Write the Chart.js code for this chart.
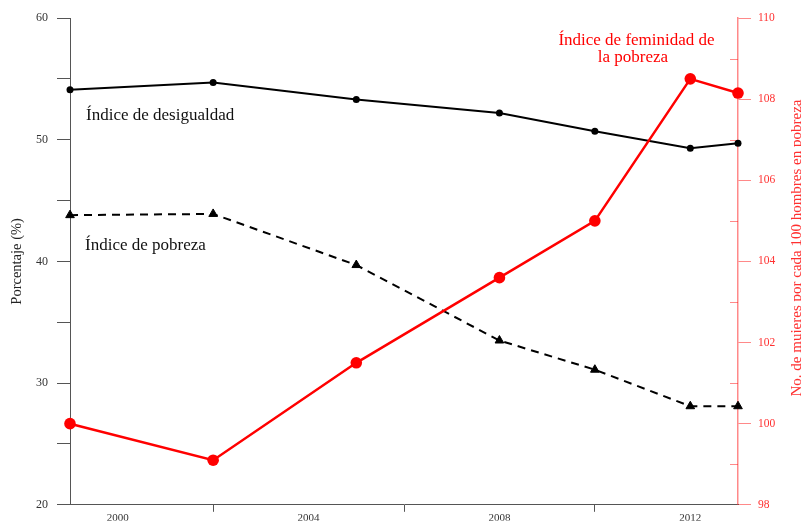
<!DOCTYPE html>
<html>
<head>
<meta charset="utf-8">
<script src="https://cdn.jsdelivr.net/npm/chart.js@4.4.0/dist/chart.umd.min.js"></script>
<style>
  html, body { margin: 0; padding: 0; background: #fff; overflow: hidden; }
  #wrap { width: 801px; height: 521px; position: relative; }
</style>
</head>
<body>
<div id="wrap"><canvas id="chart"></canvas></div>
<script>
// Data
const years = [1999, 2002, 2005, 2008, 2010, 2012, 2013];
const desigualdad = [54.1, 54.7, 53.3, 52.2, 50.7, 49.3, 49.7];
const pobreza = [43.8, 43.9, 39.7, 33.5, 31.1, 28.1, 28.1];
const feminidad = [100.0, 99.1, 101.5, 103.6, 105.0, 108.5, 108.15];
const xTickLabels = [2000, 2004, 2008, 2012];
const leftTickLabels = [20, 30, 40, 50, 60];
const rightTickLabels = [98, 100, 102, 104, 106, 108, 110];

const SERIF = '"Liberation Serif", "Times New Roman", serif';
const AXIS_GREY = '#555555';
const RIGHT_AXIS = 'rgba(255, 40, 40, 0.55)';
const RED = '#ff0000';

Chart.defaults.font.family = SERIF;

function toPoints(values) {
    return years.map((yr, i) => ({ x: yr, y: values[i] }));
}

// text labels + inward minor ticks on the right axis
const extrasPlugin = {
    id: 'extras',
    beforeDatasetsDraw(chart) {
        const ctx = chart.ctx;
        const y1 = chart.scales.y1;
        ctx.save();
        ctx.strokeStyle = RIGHT_AXIS;
        ctx.lineWidth = 1;
        y1.ticks.forEach(t => {
            if (!rightTickLabels.includes(t.value)) {
                const py = Math.round(y1.getPixelForValue(t.value)) + 0.5;
                ctx.beginPath();
                ctx.moveTo(y1.left - 8, py);
                ctx.lineTo(y1.left, py);
                ctx.stroke();
            }
        });
        ctx.restore();
    },
    afterDraw(chart) {
        const ctx = chart.ctx;
        ctx.save();
        ctx.font = '17px ' + SERIF;
        ctx.textBaseline = 'alphabetic';

        ctx.fillStyle = '#111';
        ctx.textAlign = 'left';
        ctx.fillText('Índice de desigualdad', 86, 120);
        ctx.fillText('Índice de pobreza', 85, 250);

        ctx.fillStyle = RED;
        ctx.textAlign = 'center';
        ctx.fillText('Índice de feminidad de', 636.5, 45);
        ctx.fillText('la pobreza', 633, 62);

        // right axis title, reads bottom to top
        ctx.font = '15px ' + SERIF;
        ctx.fillStyle = '#ff3030';
        ctx.textBaseline = 'middle';
        ctx.translate(797, 248);
        ctx.rotate(-Math.PI / 2);
        ctx.fillText('No. de mujeres por cada 100 hombres en pobreza', 0, 0);
        ctx.restore();
    }
};

const ctx = document.getElementById('chart').getContext('2d');
new Chart(ctx, {
    type: 'line',
    data: {
        datasets: [{
            label: 'Índice de feminidad de la pobreza',
            data: toPoints(feminidad),
            yAxisID: 'y1',
            order: 0,
            borderColor: RED,
            backgroundColor: RED,
            borderWidth: 2.5,
            pointRadius: 5.8,
            pointBorderWidth: 0,
            pointBackgroundColor: RED,
            tension: 0,
            clip: false
        }, {
            label: 'Índice de desigualdad',
            data: toPoints(desigualdad),
            yAxisID: 'y',
            order: 1,
            borderColor: '#000',
            backgroundColor: '#000',
            borderWidth: 2,
            pointRadius: 3.5,
            pointBorderWidth: 0,
            pointBackgroundColor: '#000',
            tension: 0,
            clip: false
        }, {
            label: 'Índice de pobreza',
            data: toPoints(pobreza),
            yAxisID: 'y',
            order: 2,
            borderColor: '#000',
            backgroundColor: '#000',
            borderWidth: 2,
            borderDash: [8, 6],
            pointStyle: 'triangle',
            pointRadius: 5,
            pointBorderWidth: 1,
            pointBorderColor: '#000',
            pointBackgroundColor: '#000',
            tension: 0,
            clip: false
        }]
    },
    options: {
        responsive: true,
        maintainAspectRatio: false,
        animation: false,
        layout: { padding: { top: 18, left: 0, right: 0, bottom: 0 } },
        plugins: {
            legend: { display: false },
            tooltip: { enabled: false }
        },
        scales: {
            x: {
                type: 'linear',
                min: 1999,
                max: 2013,
                border: { color: AXIS_GREY, width: 1 },
                grid: {
                    drawOnChartArea: false,
                    drawTicks: true,
                    tickLength: 7,
                    tickColor: c => (c.tick && c.tick.value % 4 === 2) ? AXIS_GREY : 'rgba(0,0,0,0)'
                },
                ticks: {
                    stepSize: 1,
                    autoSkip: false,
                    maxRotation: 0,
                    padding: 0,
                    color: '#333',
                    font: { size: 11 },
                    callback: v => xTickLabels.includes(v) ? String(v) : ''
                },
                afterFit: s => { s.height = 16; }
            },
            y: {
                position: 'left',
                min: 20,
                max: 60,
                border: { color: AXIS_GREY, width: 1 },
                grid: { drawOnChartArea: false, tickLength: 13, tickColor: AXIS_GREY },
                ticks: {
                    stepSize: 5,
                    padding: 9,
                    color: '#333',
                    font: { size: 12 },
                    callback: v => leftTickLabels.includes(v) ? String(v) : ''
                },
                title: {
                    display: true,
                    text: 'Porcentaje (%)',
                    color: '#222',
                    font: { size: 14.5 },
                    padding: { top: 8, bottom: 0 }
                },
                afterFit: s => { s.width = 70; }
            },
            y1: {
                position: 'right',
                min: 98,
                max: 110,
                border: { color: RIGHT_AXIS, width: 1.5 },
                grid: {
                    drawOnChartArea: false,
                    tickLength: 13,
                    tickColor: c => (c.tick && rightTickLabels.includes(c.tick.value)) ? RIGHT_AXIS : 'rgba(0,0,0,0)'
                },
                ticks: {
                    stepSize: 1,
                    padding: 7,
                    color: '#ff3030',
                    font: { size: 11.5 },
                    callback: v => rightTickLabels.includes(v) ? String(v) : ''
                },
                afterFit: s => { s.width = 63; }
            }
        }
    },
    plugins: [extrasPlugin]
});
</script>
</body>
</html>
